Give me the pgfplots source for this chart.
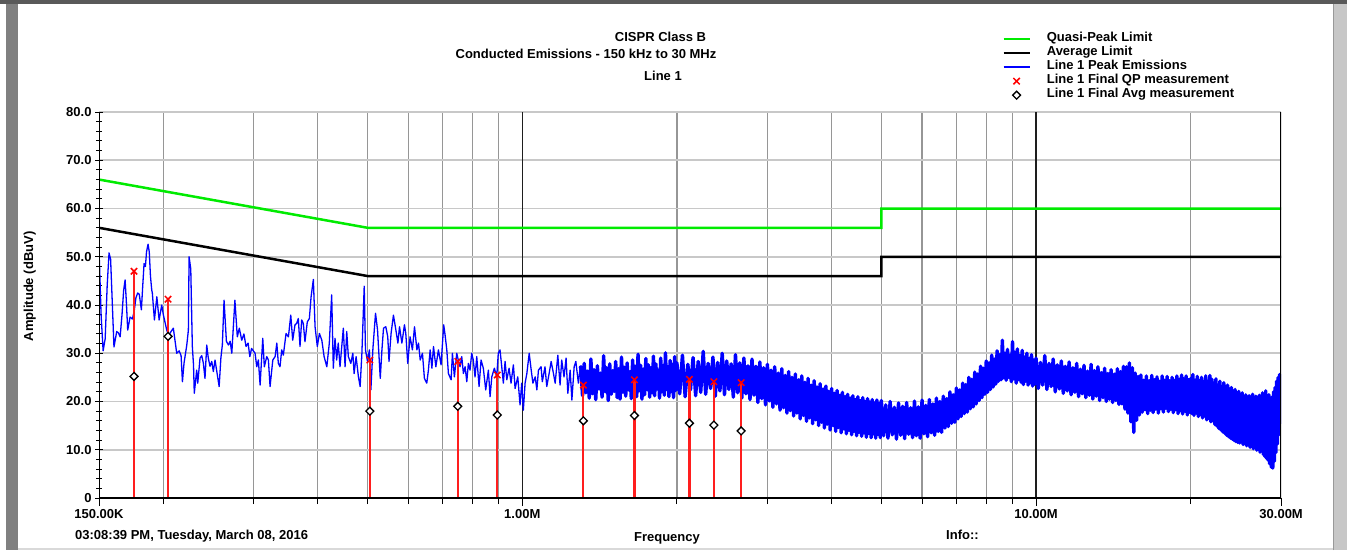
\documentclass[border=0pt]{standalone}
\usepackage{pgfplots}
\pgfplotsset{compat=1.18}
\usepackage{fontspec}
\setmainfont{Liberation Sans}
\definecolor{qpgreen}{RGB}{0,235,0}
\definecolor{gridh}{RGB}{200,200,200}
\definecolor{gridv}{RGB}{150,150,150}
\definecolor{gridmaj}{RGB}{30,30,30}
\definecolor{stemred}{RGB}{255,30,30}
\newcommand\cf{\fontsize{13}{15}\selectfont\bfseries}
\begin{document}
\begin{tikzpicture}
\useasboundingbox (0pt,0pt) rectangle (1347pt,550pt);
\fill[white] (0pt,0pt) rectangle (1347pt,550pt);
\fill[black!65] (0pt,546pt) rectangle (1347pt,550pt);
\fill[black!50] (6pt,0pt) rectangle (18pt,546pt);
\fill[black!22] (1333pt,0pt) rectangle (1347pt,546pt);
\draw[black!40] (1333pt,0pt) -- (1333pt,546pt);
\fill[black!15] (18pt,0pt) rectangle (1333pt,2pt);
\begin{axis}[
  at={(99pt,52pt)}, anchor=south west,
  scale only axis, width=1182pt, height=386pt,
  xmode=log,
  xmin=150, xmax=30000, ymin=0, ymax=80,
  xtick={150,1000,10000,30000},
  xticklabels={150.00K,1.00M,10.00M,30.00M},
  minor xtick={200,300,400,500,600,700,800,900,2000,3000,4000,5000,6000,7000,8000,9000,20000},
  ytick={0,10,20,30,40,50,60,70,80},
  yticklabels={0,10.0,20.0,30.0,40.0,50.0,60.0,70.0,80.0},
  minor y tick num=4,
  tick pos=left,
  xtick align=outside, ytick align=center,
  major tick length=8pt, minor tick length=6pt,
  tick style={black, line width=1pt},
  ymajorgrids, xminorgrids,
  y grid style={gridh, line width=1.6pt},
  x grid style={gridv, line width=1.2pt},
  axis line style={draw=none},
  tick label style={font=\cf},
  legend cell align=left,
  legend image code/.code={\draw[mark repeat=2,mark phase=2] plot coordinates {(0pt,0pt) (13pt,0pt) (26pt,0pt)};},
  legend style={at={(axis description cs:0.764,1.2073)}, anchor=north west, draw=none, fill=none, inner sep=0pt, font=\cf, column sep=16pt, row sep=0pt, nodes={inner sep=0pt, text height=9.5pt, text depth=4.5pt}},
]
\draw[gridmaj, line width=1.3pt] (axis cs:1000,0) -- (axis cs:1000,80);
\draw[gridmaj, line width=1.3pt] (axis cs:10000,0) -- (axis cs:10000,80);
\addplot[qpgreen, line width=2.5pt] coordinates {(150,66) (500,56) (5000,56) (5000,60) (30000,60)};
\addlegendentry{Quasi-Peak Limit}
\addplot[black, line width=2.5pt] coordinates {(150,56) (500,46) (5000,46) (5000,50) (30000,50)};
\addlegendentry{Average Limit}
\addplot[blue, line width=1.3pt, line join=round, legend image post style={line width=1.8pt}] table {
f v
150.0 51.4
150.7 45.0
151.4 38.0
152.8 30.5
154.2 33.0
155.6 44.0
156.9 50.8
158.0 49.5
159.0 42.0
160.4 31.3
162.4 34.5
163.7 34.2
164.9 33.4
166.3 38.0
167.5 43.0
168.6 45.2
169.5 41.0
170.6 34.8
172.4 37.5
174.2 37.1
175.5 38.5
177.0 41.5
178.4 42.5
179.7 42.2
181.4 39.0
182.5 44.0
183.6 48.6
184.7 48.0
185.6 51.0
186.9 52.6
187.9 51.0
188.9 46.0
190.0 43.1
190.5 42.5
192.3 36.9
194.4 41.7
196.4 36.9
198.7 40.0
200.1 38.0
203.2 34.8
204.9 33.6
206.3 34.2
209.3 35.2
212.5 30.0
214.8 30.5
216.7 29.5
218.0 24.1
219.6 28.0
222.3 31.7
223.9 34.8
224.6 50.0
226.3 47.5
227.9 31.4
229.1 27.6
229.9 21.7
232.4 26.5
233.5 23.8
235.9 29.0
237.7 29.5
239.4 28.0
241.2 24.8
243.1 31.7
244.8 29.0
246.7 27.3
248.6 28.3
250.4 26.2
252.3 28.6
257.0 23.1
259.0 29.0
260.7 31.7
262.7 41.0
265.5 32.5
267.9 31.7
270.0 32.5
272.0 30.0
275.8 41.0
278.8 33.4
281.3 35.2
284.4 32.7
287.2 34.0
289.9 31.4
292.6 32.1
294.9 29.3
297.2 31.0
301.9 30.0
304.2 27.2
306.4 28.6
308.8 23.4
312.5 33.1
314.7 27.2
318.1 29.3
320.5 28.6
322.9 23.1
326.9 28.6
330.3 29.3
332.8 32.1
335.1 27.9
337.6 27.2
340.2 30.7
342.7 29.6
346.9 34.1
350.6 33.4
354.3 37.9
357.4 32.7
361.1 35.9
363.9 36.2
366.5 37.2
369.3 31.4
372.1 36.9
374.8 36.2
377.6 32.4
381.6 36.5
385.1 37.2
388.1 41.7
392.1 45.3
395.1 35.5
399.1 31.4
402.8 34.1
407.2 32.7
411.4 29.3
416.4 27.2
421.1 32.1
425.6 42.1
428.7 26.9
432.0 33.1
435.2 28.6
438.3 32.1
441.8 27.2
448.4 35.2
451.9 27.2
455.3 34.5
458.6 29.3
463.7 27.9
467.9 30.0
470.6 25.8
474.8 29.3
479.8 25.1
483.5 23.1
487.3 30.0
492.4 43.9
495.2 30.7
499.7 28.3
504.0 30.7
507.3 22.4
512.0 31.0
518.0 38.3
522.7 34.8
529.1 24.8
533.1 30.7
536.9 35.2
542.5 35.5
547.2 33.4
550.3 28.3
555.4 34.1
561.3 37.9
567.5 34.8
572.7 32.1
576.8 35.5
583.0 32.1
589.7 35.9
593.3 34.1
598.5 27.9
604.8 33.4
611.2 30.7
616.9 35.5
623.6 30.7
628.1 32.1
632.9 28.6
639.3 30.0
644.9 24.8
651.8 23.8
656.6 26.5
661.7 30.7
666.9 26.9
671.7 31.4
678.9 27.2
686.7 30.7
694.9 27.6
703.2 35.9
707.5 33.8
713.0 30.7
718.2 25.8
727.0 24.5
731.2 30.0
737.7 25.1
745.5 30.0
750.7 28.6
756.6 27.2
762.5 29.3
768.1 25.8
774.0 27.2
779.9 24.1
785.4 27.9
791.3 26.5
797.2 30.0
802.8 28.6
809.1 25.1
815.4 29.3
823.9 23.1
831.3 28.6
839.8 26.9
848.9 22.4
859.0 26.5
865.6 21.0
872.3 25.1
882.4 26.9
891.8 25.1
898.0 30.0
905.0 30.7
912.1 27.2
918.7 23.8
925.8 28.3
932.9 24.5
942.5 26.9
950.9 23.8
960.9 27.6
968.3 22.7
980.0 25.1
990.0 19.3
997.4 23.8
1004.7 18.2
1012.7 23.8
1020.7 25.8
1031.5 30.0
1040.8 26.5
1048.8 23.8
1059.6 25.1
1067.6 22.4
1075.1 26.5
1087.8 27.2
1093.9 24.1
1107.2 27.2
1116.0 23.1
1127.8 25.8
1138.1 28.3
1150.0 25.8
1158.8 23.8
1172.7 29.6
1184.5 23.4
1193.3 28.6
1205.6 25.1
1216.9 29.0
1226.4 21.7
1239.3 26.5
1248.9 20.3
1261.8 27.2
1271.3 28.3
1285.9 23.8
1295.5 26.9
};
\addlegendentry{Line 1 Peak Emissions}
\addplot[blue, line width=3.4pt, line join=round, forget plot] table {
f v
1295.5 26.9
1300 27.2
1310 21.2
1320 27.9
1330 21.8
1340 26.3
1350 20.7
1360 28.8
1370 21.6
1380 26.6
1390 20.4
1400 27.4
1410 22.6
1420 25.9
1430 20.9
1440 29.5
1450 22.0
1460 27.0
1470 20.2
1480 27.8
1490 21.5
1500 26.4
1510 22.1
1520 28.3
1530 20.8
1540 26.8
1550 20.5
1560 29.2
1570 21.9
1580 27.1
1590 21.1
1600 28.0
1610 22.4
1620 26.2
1630 20.6
1640 28.6
1650 21.7
1660 27.3
1670 21.0
1680 29.8
1690 22.2
1700 27.5
1710 20.5
1720 26.7
1730 21.4
1740 28.9
1750 22.5
1760 27.6
1770 20.9
1780 27.0
1790 21.8
1800 29.4
1810 21.2
1820 27.8
1830 22.6
1840 26.5
1850 20.7
1860 29.0
1870 22.0
1880 27.4
1890 21.3
1900 30.1
1910 22.5
1920 27.2
1930 21.0
1940 28.5
1950 22.1
1960 27.7
1970 20.8
1980 29.3
1990 22.3
2000 28.0
2025 21.6
2050 29.6
2075 21.0
2100 27.7
2125 22.4
2150 29.1
2175 21.2
2200 28.3
2225 21.9
2250 30.4
2275 21.5
2300 27.9
2325 22.7
2350 29.2
2375 21.1
2400 28.1
2425 22.2
2450 30.0
2475 21.4
2500 28.4
2525 22.5
2550 27.8
2575 20.9
2600 29.7
2625 21.8
2650 28.0
2675 20.7
2700 29.0
2725 21.6
2750 27.4
2775 20.4
2800 28.8
2825 21.3
2850 27.3
2875 19.8
2900 28.2
2925 20.6
2950 27.0
2975 19.3
3000 27.7
3025 20.1
3050 26.5
3075 18.8
3100 27.2
3125 19.5
3150 25.9
3175 18.2
3200 26.8
3225 18.7
3250 25.4
3275 17.6
3300 26.2
3325 18.1
3350 25.0
3375 17.0
3400 25.7
3425 17.6
3450 24.5
3475 16.4
3500 25.3
3525 17.1
3550 24.0
3575 15.9
3600 24.8
3625 16.6
3650 23.4
3675 15.4
3700 24.3
3725 16.2
3750 23.0
3775 15.0
3800 23.7
3825 15.7
3850 22.6
3875 14.5
3900 23.2
3925 15.3
3950 22.1
3975 14.1
4000 22.7
4025 15.0
4050 21.7
4075 13.8
4100 22.3
4125 14.6
4150 21.3
4175 13.5
4200 21.9
4225 14.3
4250 21.0
4275 13.3
4300 21.5
4325 14.0
4350 20.7
4375 13.1
4400 21.2
4425 13.8
4450 20.4
4475 12.9
4500 21.0
4525 13.6
4550 20.2
4575 12.8
4600 20.8
4625 13.5
4650 20.0
4675 12.6
4700 20.6
4725 13.4
4750 19.9
4775 12.5
4800 20.4
4825 13.3
4850 19.7
4875 12.4
4900 20.3
4925 13.2
4950 19.6
4975 12.5
5000 20.2
5050 12.9
5100 19.3
5150 12.4
5200 20.0
5250 13.1
5300 18.8
5350 12.2
5400 19.7
5450 13.0
5500 19.0
5550 12.3
5600 19.8
5650 13.2
5700 18.7
5750 12.5
5800 20.1
5850 12.9
5900 18.9
5950 12.4
6000 20.3
6050 13.3
6100 19.2
6150 12.7
6200 20.4
6250 13.5
6300 19.5
6350 13.0
6400 20.7
6450 13.8
6500 20.0
6550 13.6
6600 21.1
6650 14.5
6700 20.6
6750 14.8
6800 22.0
6850 15.5
6900 21.4
6950 15.7
7000 22.8
7050 16.4
7100 22.4
7150 16.9
7200 23.8
7250 17.5
7300 23.5
7350 17.8
7400 25.0
7450 18.5
7500 24.6
7550 18.9
7600 26.1
7650 19.5
7700 25.7
7750 20.2
7800 27.3
7850 20.8
7900 26.9
7950 21.5
8000 28.4
8050 21.9
8100 28.0
8150 22.5
8200 29.6
8250 23.0
8300 28.8
8350 23.6
8400 30.5
8450 24.2
8500 29.7
8550 24.5
8600 32.7
8650 24.9
8700 30.0
8750 24.4
8800 30.8
8850 25.0
8900 29.6
8950 24.1
9000 32.4
9050 24.7
9100 30.2
9150 23.8
9200 30.9
9250 24.5
9300 29.5
9350 24.0
9400 30.6
9450 23.5
9500 29.2
9550 24.2
9600 30.0
9650 23.4
9700 28.9
9750 23.9
9800 29.7
9850 23.2
9900 28.6
9950 23.6
10000 29.0
10100 22.7
10200 28.1
10300 23.4
10400 29.5
10500 22.5
10600 27.9
10700 23.1
10800 28.8
10900 22.0
11000 27.6
11100 22.6
11200 28.4
11300 21.7
11400 27.3
11500 22.2
11600 28.2
11700 21.4
11800 27.0
11900 21.9
12000 27.9
12100 21.0
12200 26.7
12300 21.6
12400 27.5
12500 20.8
12600 26.3
12700 21.3
12800 27.7
12900 20.5
13000 26.4
13100 21.1
13200 27.2
13300 20.2
13400 26.0
13500 20.8
13600 26.9
13700 20.0
13800 25.8
13900 20.5
14000 26.6
14100 19.8
14200 25.7
14300 20.2
14400 26.8
14500 19.4
14600 26.2
14700 19.5
14800 27.3
14900 18.4
15000 27.2
15100 17.6
15200 28.0
15300 15.8
15400 27.0
15500 13.6
15600 25.9
15700 16.1
15800 25.2
15900 17.2
16000 25.5
16100 17.8
16200 24.4
16300 18.3
16400 25.3
16500 17.5
16600 24.3
16700 18.2
16800 25.4
16900 17.7
17000 24.5
17100 18.4
17200 25.1
17300 17.6
17400 24.2
17500 18.5
17600 25.3
17700 17.8
17800 24.4
17900 18.6
18000 25.2
18100 17.9
18200 24.3
18300 18.4
18400 25.0
18500 17.7
18600 24.4
18700 18.3
18800 25.3
18900 17.5
19000 24.6
19100 18.1
19200 25.5
19300 17.4
19400 24.7
19500 18.0
19600 25.3
19700 17.2
19800 24.5
19900 17.8
20000 24.8
20100 17.5
20200 25.6
20300 17.1
20400 24.4
20500 17.6
20600 25.2
20700 16.9
20800 24.3
20900 17.3
21000 25.0
21100 16.6
21200 24.1
21300 17.0
21400 25.3
21500 16.2
21600 24.2
21700 16.5
21800 25.4
21900 15.8
22000 24.6
22100 16.0
22200 23.8
22300 15.2
22400 24.7
22500 14.9
22600 23.4
22700 14.4
22800 24.2
22900 14.1
23000 23.1
23100 13.7
23200 23.9
23300 13.4
23400 22.6
23500 13.0
23600 23.4
23700 12.7
23800 22.2
23900 12.4
24000 22.9
24100 12.2
24200 21.8
24300 11.9
24400 22.5
24500 11.7
24600 21.4
24700 11.5
24800 22.1
24900 11.4
25000 21.0
25100 11.6
25200 21.8
25300 11.1
25400 20.6
25500 11.3
25600 21.4
25700 10.8
25800 20.4
25900 11.0
26000 21.2
26100 10.5
26200 20.2
26300 10.8
26400 21.5
26500 10.2
26600 20.3
26700 10.5
26800 21.1
26900 9.9
27000 20.0
27100 10.2
27200 21.3
27300 9.5
27400 20.4
27500 9.7
27600 21.8
27700 9.0
27800 20.6
27900 8.6
28000 22.2
28100 8.2
28200 20.9
28300 7.8
28400 21.4
28500 7.1
28600 20.2
28700 6.4
28800 20.9
28900 6.2
29000 22.0
29100 7.6
29200 22.9
29300 9.4
29400 24.2
29500 11.2
29600 25.0
29700 13.1
29800 25.6
29900 15.6
30000 25.2
};
\addplot[stemred, line width=2.2pt, forget plot] coordinates {(175.5,0) (175.5,47.0)};
\addplot[stemred, line width=2.2pt, forget plot] coordinates {(204.4,0) (204.4,41.2)};
\addplot[stemred, line width=2.2pt, forget plot] coordinates {(505,0) (505,28.6)};
\addplot[stemred, line width=2.2pt, forget plot] coordinates {(749,0) (749,28.3)};
\addplot[stemred, line width=2.2pt, forget plot] coordinates {(894,0) (894,25.5)};
\addplot[stemred, line width=2.2pt, forget plot] coordinates {(1315,0) (1315,23.4)};
\addplot[stemred, line width=2.2pt, forget plot] coordinates {(1653,0) (1653,24.5)};
\addplot[stemred, line width=2.2pt, forget plot] coordinates {(2115,0) (2115,24.6)};
\addplot[stemred, line width=2.2pt, forget plot] coordinates {(2360,0) (2360,24.1)};
\addplot[stemred, line width=2.2pt, forget plot] coordinates {(2667,0) (2667,23.9)};
\addplot[red, only marks, mark=x, mark size=4.5pt, line width=1.5pt] table {
f v
175.5 47.0
204.4 41.2
505 28.6
749 28.3
894 25.5
1315 23.4
1653 24.5
2115 24.6
2360 24.1
2667 23.9
};
\addlegendentry{Line 1 Final QP measurement}
\addplot[black, only marks, mark=square*, mark size=2.8pt, line width=1.3pt, mark options={fill=white, rotate=45}] table {
f v
175.5 25.2
204.4 33.5
505 18.0
749 19.0
894 17.2
1315 16.0
1653 17.1
2115 15.5
2360 15.1
2667 13.9
};
\addlegendentry{Line 1 Final Avg measurement}
\draw[black, line width=1.3pt] (rel axis cs:0,1) -- (rel axis cs:0,0) -- (rel axis cs:1,0) -- (rel axis cs:1,1);
\end{axis}
\node[font=\cf, anchor=base] at (660.5pt,508.3pt) {CISPR Class B};
\node[font=\cf, anchor=base] at (586pt,491.7pt) {Conducted Emissions - 150 kHz to 30 MHz};
\node[font=\cf, anchor=base] at (663pt,469.3pt) {Line 1};
\node[font=\cf, anchor=base] at (667pt,9pt) {Frequency};
\node[font=\cf, anchor=base west, inner sep=0pt] at (75pt,10.5pt) {03:08:39 PM, Tuesday, March 08, 2016};
\node[font=\cf, anchor=base west, inner sep=0pt] at (946pt,10.5pt) {Info::};
\node[font=\cf, anchor=base, rotate=90, inner sep=0pt] at (33pt,263.5pt) {Amplitude (dBuV)};
\end{tikzpicture}
\end{document}
